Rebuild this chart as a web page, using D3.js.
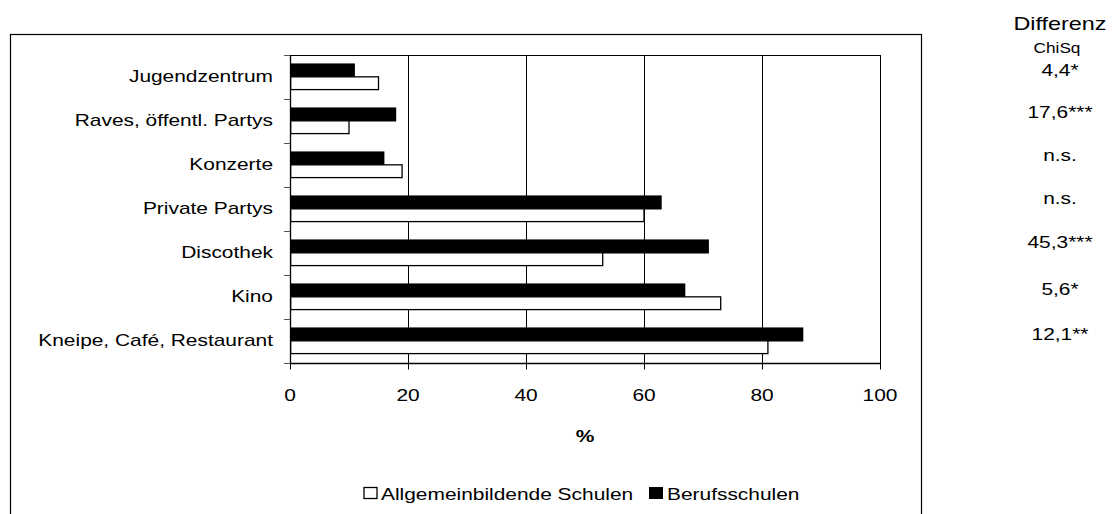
<!DOCTYPE html>
<html><head><meta charset="utf-8">
<script src="https://cdn.jsdelivr.net/npm/d3@7"></script>
<style>html,body{margin:0;padding:0;background:#fff;} svg{display:block;font-family:"Liberation Sans",Arial,sans-serif;}</style>
</head><body>
<svg id="c" width="1117" height="514"></svg>
<script>
const categories = ["Jugendzentrum","Raves, öffentl. Partys","Konzerte","Private Partys","Discothek","Kino","Kneipe, Café, Restaurant"];
const allgemein = [15,10,19,60,53,73,81];
const beruf = [11,18,16,63,71,67,87];
const chiSq = ["4,4*","17,6***","n.s.","n.s.","45,3***","5,6*","12,1**"];
const xTicks = [0,20,40,60,80,100];
const seriesNames = ["Allgemeinbildende Schulen","Berufsschulen"];

const SX = 1.23;
const svg = d3.select("#c");
function txt(g, x, y, s, opts) {
  opts = opts || {};
  return g.append("text")
    .attr("transform", `translate(${x},${y}) scale(${SX},1)`)
    .attr("text-anchor", opts.anchor || "start")
    .attr("font-size", opts.size || 17)
    .attr("font-weight", opts.weight || "normal")
    .attr("fill", "#000")
    .text(s);
}

// outer chart frame
svg.append("rect").attr("x",10.5).attr("y",34.5).attr("width",911).attr("height",500)
  .attr("fill","none").attr("stroke","#000").attr("stroke-width",1.2);

const pLeft = 290, pRight = 880, pTop = 55.5, pBottom = 363.5;
const x = d3.scaleLinear().domain([0,100]).range([pLeft,pRight]);
const y = d3.scaleBand().domain(categories).range([pTop,pBottom]);

// gridlines
svg.append("g").selectAll("line").data(xTicks.slice(1)).join("line")
  .attr("x1",d=>x(d)+0.5).attr("x2",d=>x(d)+0.5).attr("y1",pTop).attr("y2",pBottom)
  .attr("stroke","#000").attr("stroke-width",1);

// plot border
svg.append("rect").attr("x",pLeft+0.5).attr("y",pTop).attr("width",pRight-pLeft).attr("height",pBottom-pTop)
  .attr("fill","none").attr("stroke","#000").attr("stroke-width",1);

const bw = y.bandwidth();
// black bars (Berufsschulen)
svg.append("g").selectAll("rect").data(categories).join("rect")
  .attr("x",x(0)).attr("y",d=>y(d)+bw*0.18).attr("height",bw*0.32)
  .attr("width",(d,i)=>x(beruf[i])-x(0)).attr("fill","#000");
// white bars (Allgemeinbildende)
svg.append("g").selectAll("rect").data(categories).join("rect")
  .attr("x",x(0)+0.65).attr("y",d=>y(d)+bw*0.485).attr("height",bw*0.29)
  .attr("width",(d,i)=>x(allgemein[i])-x(0)-0.65).attr("fill","#fff")
  .attr("stroke","#000").attr("stroke-width",1.3);

// y axis
const yAxisG = svg.append("g");
yAxisG.append("line").attr("x1",pLeft+0.5).attr("x2",pLeft+0.5).attr("y1",pTop).attr("y2",pBottom).attr("stroke","#000").attr("stroke-width",1.3);
const bounds = categories.map(c=>y(c)).concat([pBottom]);
yAxisG.selectAll("line.t").data(bounds).join("line").attr("class","t")
  .attr("x1",pLeft-6).attr("x2",pLeft).attr("y1",d=>d).attr("y2",d=>d).attr("stroke","#555").attr("stroke-width",1);
categories.forEach(c=>{ txt(svg, 273, y(c)+bw/2+4.5, c, {anchor:"end"}); });

// x axis
const xAxisG = svg.append("g");
xAxisG.append("line").attr("x1",pLeft).attr("x2",pRight+0.5).attr("y1",pBottom).attr("y2",pBottom).attr("stroke","#000").attr("stroke-width",1.3);
xAxisG.selectAll("line.t").data(xTicks).join("line").attr("class","t")
  .attr("x1",d=>x(d)+0.5).attr("x2",d=>x(d)+0.5).attr("y1",pBottom).attr("y2",pBottom+6).attr("stroke","#000");
xTicks.forEach(t=>{ txt(svg, x(t), 401, String(t), {anchor:"middle"}); });
txt(svg, (pLeft+pRight)/2, 442, "%", {anchor:"middle", weight:"bold"});

// legend
const lg = svg.append("g");
lg.append("rect").attr("x",364).attr("y",487.5).attr("width",13).attr("height",11).attr("fill","#fff").attr("stroke","#000").attr("stroke-width",1.3);
txt(lg, 381, 499.5, seriesNames[0]);
lg.append("rect").attr("x",649).attr("y",487).attr("width",14).attr("height",12).attr("fill","#000");
txt(lg, 667, 499.5, seriesNames[1]);

// right annotation column
const cx = 1060;
txt(svg, cx, 29.5, "Differenz", {anchor:"middle", size:19});
txt(svg, cx-3, 52.5, "ChiSq", {anchor:"middle", size:14});
const offs = [-1.5,-4,-5,-6,-6,-3,-2];
chiSq.forEach((s,i)=>{ txt(svg, cx, y(categories[i])+bw/2+offs[i], s, {anchor:"middle", size:17}); });
</script>
</body></html>
